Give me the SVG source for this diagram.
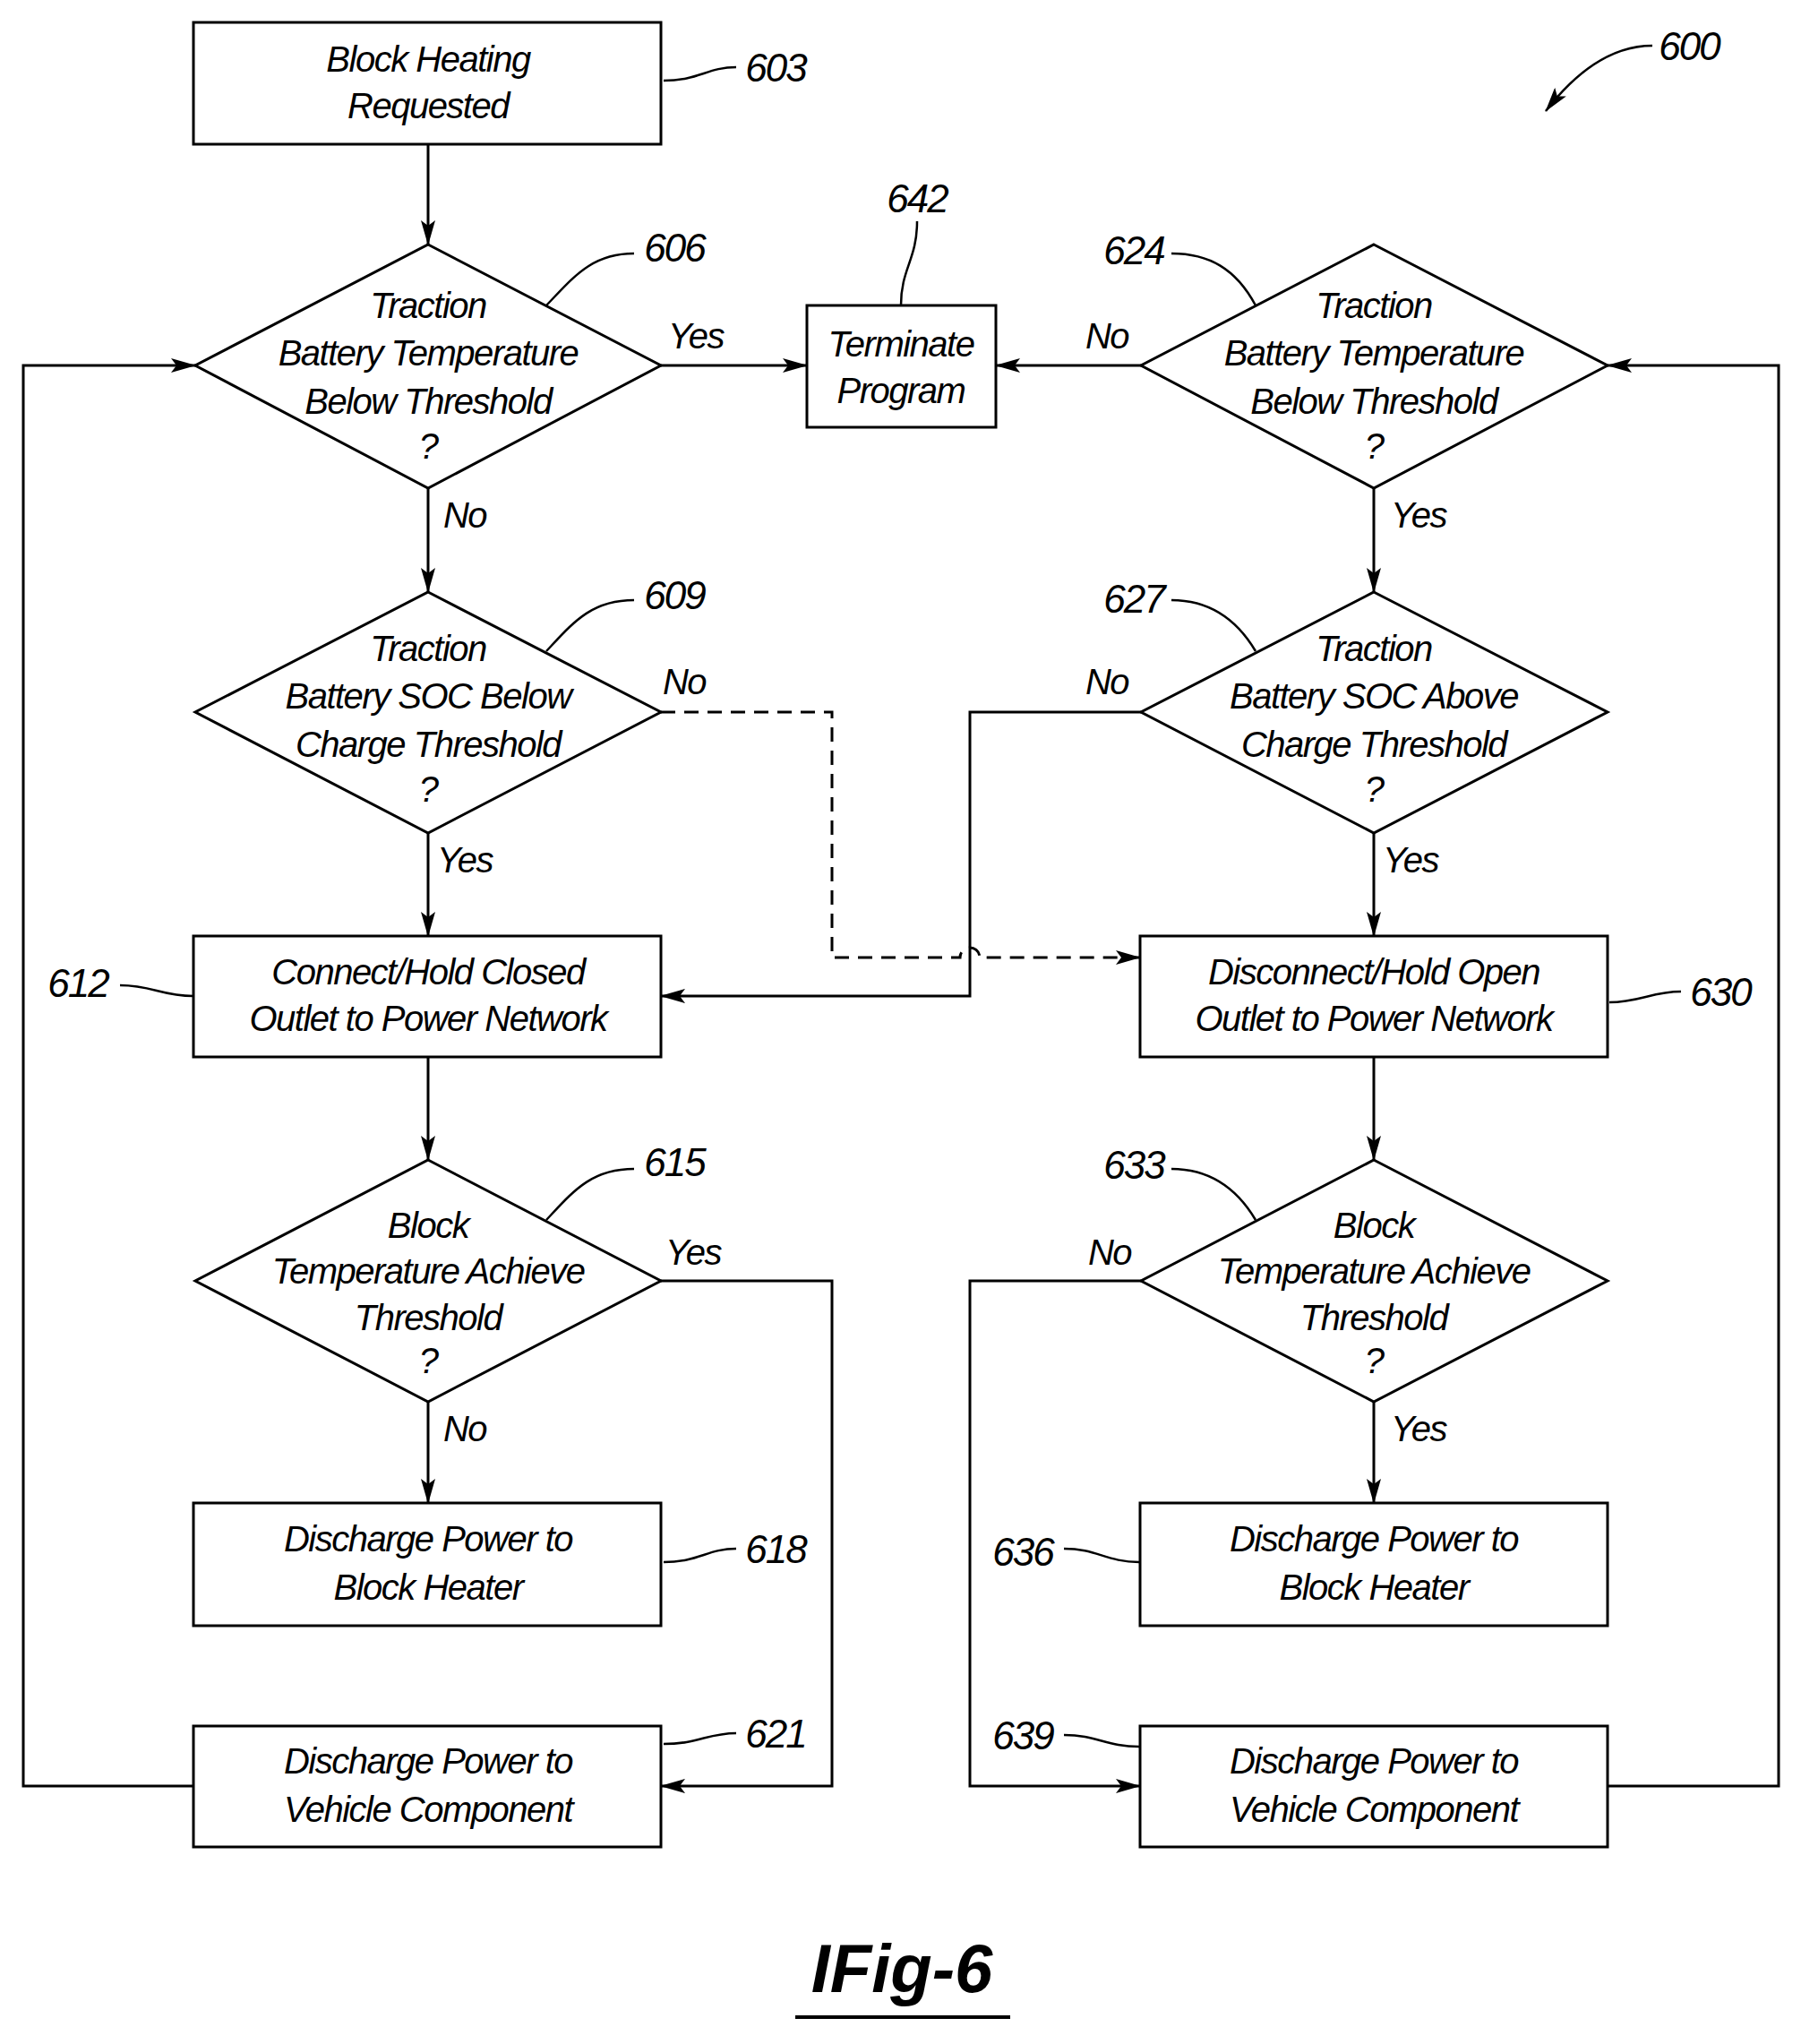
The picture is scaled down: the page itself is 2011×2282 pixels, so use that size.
<svg xmlns="http://www.w3.org/2000/svg" width="2011" height="2282" viewBox="0 0 2011 2282">
<defs>
<marker id="ah" markerWidth="28" markerHeight="16" refX="27" refY="8" orient="auto" markerUnits="userSpaceOnUse"><path d="M0,0 L28,8 L0,16 L6,8 Z" fill="#000"/></marker>
<style>
.s{fill:#fff;stroke:#000;stroke-width:3}
.t{font-family:"Liberation Sans",Arial,sans-serif;font-style:italic;font-size:40px;text-anchor:middle;dominant-baseline:central;letter-spacing:-1.5px}
.l{font-family:"Liberation Sans",Arial,sans-serif;font-style:italic;font-size:44px;text-anchor:middle;dominant-baseline:central;letter-spacing:-2px}
.c{fill:none;stroke:#000;stroke-width:3}
.d{fill:none;stroke:#000;stroke-width:3;stroke-dasharray:16,10}
.ld{fill:none;stroke:#000;stroke-width:2.5}
</style>
</defs>
<rect width="2011" height="2282" fill="#fff"/>
<g id="connectors">
<line class="c" x1="478" y1="161" x2="478" y2="273" marker-end="url(#ah)"/>
<line class="c" x1="738" y1="408" x2="901" y2="408" marker-end="url(#ah)"/>
<line class="c" x1="1274" y1="408" x2="1112" y2="408" marker-end="url(#ah)"/>
<line class="c" x1="478" y1="545" x2="478" y2="661" marker-end="url(#ah)"/>
<line class="c" x1="1534" y1="545" x2="1534" y2="661" marker-end="url(#ah)"/>
<line class="c" x1="478" y1="930" x2="478" y2="1045" marker-end="url(#ah)"/>
<line class="c" x1="1534" y1="930" x2="1534" y2="1045" marker-end="url(#ah)"/>
<line class="c" x1="478" y1="1180" x2="478" y2="1295" marker-end="url(#ah)"/>
<line class="c" x1="1534" y1="1180" x2="1534" y2="1295" marker-end="url(#ah)"/>
<line class="c" x1="478" y1="1565" x2="478" y2="1678" marker-end="url(#ah)"/>
<line class="c" x1="1534" y1="1565" x2="1534" y2="1678" marker-end="url(#ah)"/>
<path class="d" d="M738,795 H929 V1069 H1072 A11,11 0 0 1 1094,1069 H1273" marker-end="url(#ah)"/>
<path class="c" d="M1274,795 H1083 V1112 H738" marker-end="url(#ah)"/>
<path class="c" d="M738,1430 H929 V1994 H738" marker-end="url(#ah)"/>
<path class="c" d="M1274,1430 H1083 V1994 H1273" marker-end="url(#ah)"/>
<path class="c" d="M216,1994 H26 V408 H218" marker-end="url(#ah)"/>
<path class="c" d="M1795,1994 H1986 V408 H1795" marker-end="url(#ah)"/>
</g>
<g id="n603"><rect class="s" x="216" y="25" width="522" height="136"/><text class="t" x="478" y="66">Block Heating</text><text class="t" x="478" y="118">Requested</text></g>
<g id="n606"><polygon class="s" points="478,273 738,408 478,545 218,408"/><text class="t" x="478" y="341">Traction</text><text class="t" x="478" y="394">Battery Temperature</text><text class="t" x="478" y="448">Below Threshold</text><text class="t" x="478" y="498">?</text></g>
<g id="n642"><rect class="s" x="901" y="341" width="211" height="136"/><text class="t" x="1006" y="384">Terminate</text><text class="t" x="1006" y="436">Program</text></g>
<g id="n624"><polygon class="s" points="1534,273 1795,408 1534,545 1274,408"/><text class="t" x="1534" y="341">Traction</text><text class="t" x="1534" y="394">Battery Temperature</text><text class="t" x="1534" y="448">Below Threshold</text><text class="t" x="1534" y="498">?</text></g>
<g id="n609"><polygon class="s" points="478,661 738,795 478,930 218,795"/><text class="t" x="478" y="724">Traction</text><text class="t" x="478" y="777">Battery SOC Below</text><text class="t" x="478" y="831">Charge Threshold</text><text class="t" x="478" y="881">?</text></g>
<g id="n627"><polygon class="s" points="1534,661 1795,795 1534,930 1274,795"/><text class="t" x="1534" y="724">Traction</text><text class="t" x="1534" y="777">Battery SOC Above</text><text class="t" x="1534" y="831">Charge Threshold</text><text class="t" x="1534" y="881">?</text></g>
<g id="n612"><rect class="s" x="216" y="1045" width="522" height="135"/><text class="t" x="478" y="1085">Connect/Hold Closed</text><text class="t" x="478" y="1137">Outlet to Power Network</text></g>
<g id="n630"><rect class="s" x="1273" y="1045" width="522" height="135"/><text class="t" x="1534" y="1085">Disconnect/Hold Open</text><text class="t" x="1534" y="1137">Outlet to Power Network</text></g>
<g id="n615"><polygon class="s" points="478,1295 738,1430 478,1565 218,1430"/><text class="t" x="478" y="1368">Block</text><text class="t" x="478" y="1419">Temperature Achieve</text><text class="t" x="478" y="1471">Threshold</text><text class="t" x="478" y="1519">?</text></g>
<g id="n633"><polygon class="s" points="1534,1295 1795,1430 1534,1565 1274,1430"/><text class="t" x="1534" y="1368">Block</text><text class="t" x="1534" y="1419">Temperature Achieve</text><text class="t" x="1534" y="1471">Threshold</text><text class="t" x="1534" y="1519">?</text></g>
<g id="n618"><rect class="s" x="216" y="1678" width="522" height="137"/><text class="t" x="478" y="1718">Discharge Power to</text><text class="t" x="478" y="1772">Block Heater</text></g>
<g id="n636"><rect class="s" x="1273" y="1678" width="522" height="137"/><text class="t" x="1534" y="1718">Discharge Power to</text><text class="t" x="1534" y="1772">Block Heater</text></g>
<g id="n621"><rect class="s" x="216" y="1927" width="522" height="135"/><text class="t" x="478" y="1966">Discharge Power to</text><text class="t" x="478" y="2020">Vehicle Component</text></g>
<g id="n639"><rect class="s" x="1273" y="1927" width="522" height="135"/><text class="t" x="1534" y="1966">Discharge Power to</text><text class="t" x="1534" y="2020">Vehicle Component</text></g>
<g id="labels">
<text class="t" x="777" y="375">Yes</text><text class="t" x="1236" y="375">No</text>
<text class="t" x="519" y="575">No</text><text class="t" x="1584" y="575">Yes</text>
<text class="t" x="764" y="761">No</text><text class="t" x="1236" y="761">No</text>
<text class="t" x="519" y="960">Yes</text><text class="t" x="1575" y="960">Yes</text>
<text class="t" x="774" y="1398">Yes</text><text class="t" x="1239" y="1398">No</text>
<text class="t" x="519" y="1595">No</text><text class="t" x="1584" y="1595">Yes</text>
<text class="l" x="866" y="75">603</text><path class="ld" d="M741,90 C780,90 790,75 822,75"/>
<text class="l" x="753" y="276">606</text><path class="ld" d="M610,341 C640,310 660,283 708,283"/>
<text class="l" x="1024" y="221">642</text><path class="ld" d="M1024,247 C1024,290 1006,300 1006,341"/>
<text class="l" x="1266" y="279">624</text><path class="ld" d="M1308,283 C1350,283 1380,300 1402,341"/>
<text class="l" x="753" y="664">609</text><path class="ld" d="M610,727 C640,695 660,670 708,670"/>
<text class="l" x="1266" y="668">627</text><path class="ld" d="M1308,670 C1350,670 1380,690 1402,727"/>
<text class="l" x="87" y="1097">612</text><path class="ld" d="M134,1100 C170,1100 180,1112 216,1112"/>
<text class="l" x="1921" y="1107">630</text><path class="ld" d="M1797,1119 C1830,1119 1845,1107 1877,1107"/>
<text class="l" x="753" y="1297">615</text><path class="ld" d="M610,1362 C640,1330 660,1305 708,1305"/>
<text class="l" x="1266" y="1300">633</text><path class="ld" d="M1308,1305 C1350,1305 1380,1325 1402,1362"/>
<text class="l" x="866" y="1729">618</text><path class="ld" d="M741,1744 C780,1744 790,1729 822,1729"/>
<text class="l" x="1142" y="1732">636</text><path class="ld" d="M1188,1729 C1225,1729 1235,1744 1273,1744"/>
<text class="l" x="866" y="1935">621</text><path class="ld" d="M741,1947 C780,1947 790,1935 822,1935"/>
<text class="l" x="1142" y="1937">639</text><path class="ld" d="M1188,1937 C1225,1937 1235,1950 1273,1950"/>
<text class="l" x="1886" y="51">600</text>
<path class="ld" d="M1845,51 C1800,51 1760,80 1726,124" marker-end="url(#ah)"/>
<text x="1007" y="2197" font-family="Liberation Sans,Arial,sans-serif" font-style="italic" font-weight="bold" font-size="76" text-anchor="middle" dominant-baseline="central">IFig-6</text>
<line x1="888" y1="2252" x2="1128" y2="2252" stroke="#000" stroke-width="4"/>
</g>
</svg>
